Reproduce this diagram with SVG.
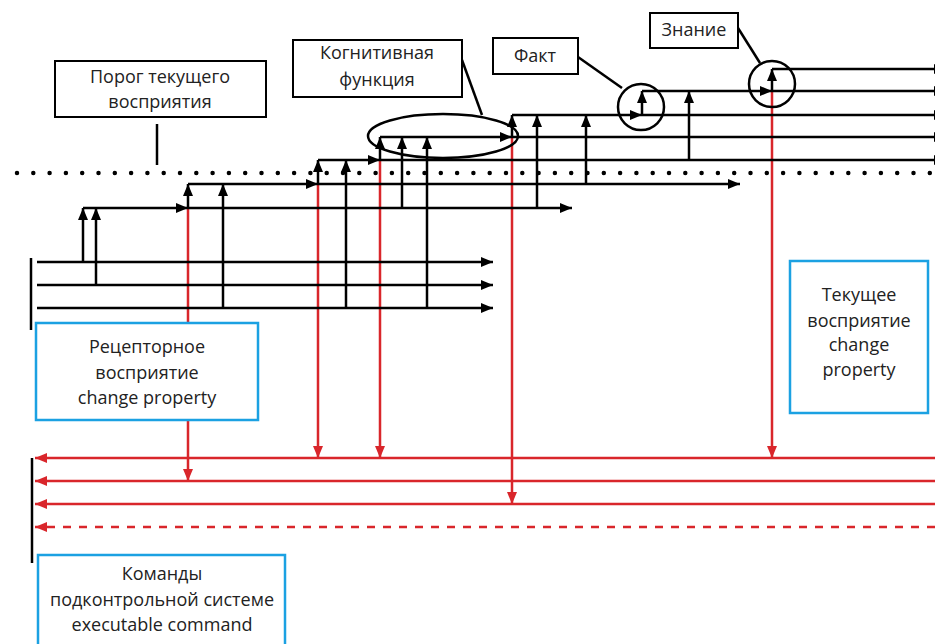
<svg xmlns="http://www.w3.org/2000/svg" width="935" height="644" viewBox="0 0 935 644">
<style>
.k{stroke:#000;stroke-width:2.5;fill:none}
.r{stroke:#D9262B;stroke-width:2.5;fill:none}
.ka{marker-end:url(#ak)}
.ra{marker-end:url(#ar)}
.box{fill:#fff;stroke:#000;stroke-width:2}
.bbox{fill:#fff;stroke:#1BA1E2;stroke-width:2.5}
.ring{fill:none;stroke:#000;stroke-width:2.5}
text{font-family:"Open Sans","Liberation Sans",sans-serif;font-size:18px;fill:#222;text-anchor:middle}
</style>
<defs>
<marker id="ak" viewBox="0 0 12 10" refX="12" refY="5" markerWidth="12" markerHeight="10" markerUnits="userSpaceOnUse" orient="auto"><path d="M0,0L12,5L0,10z" fill="#000"/></marker>
<marker id="ar" viewBox="0 0 12 10" refX="12" refY="5" markerWidth="12" markerHeight="10" markerUnits="userSpaceOnUse" orient="auto"><path d="M0,0L12,5L0,10z" fill="#D9262B"/></marker>
</defs>
<rect width="935" height="644" fill="#fff"/>

<g id="threshold-line">
<line x1="17" y1="173" x2="935" y2="173" stroke="#000" stroke-width="4.5" stroke-linecap="round" stroke-dasharray="0 16.3"/>
</g>

<g id="connectors">
<path class="r ra" d="M188,208V481"/>
<path class="r ra" d="M318,184V458"/>
<path class="r ra" d="M380,160V458"/>
<path class="r ra" d="M512,137V504"/>
<path class="r ra" d="M772,91V458"/>
<path class="r ra" d="M935,458H35"/>
<path class="r ra" d="M935,481H35"/>
<path class="r ra" d="M935,504H35"/>
<path class="r ra" d="M935,527H35" stroke-dasharray="8 8"/>
<path class="k" d="M31,258V330"/>
<path class="k" d="M32,458V563"/>
<path class="k ka" d="M37,262H493"/>
<path class="k ka" d="M37,285H493"/>
<path class="k ka" d="M37,308H493"/>
<path class="k ka" d="M83,262V208"/>
<path class="k ka" d="M96,285V208"/>
<path class="k ka" d="M83,208H188"/>
<path class="k ka" d="M188,208H572"/>
<path class="k ka" d="M188,208V184"/>
<path class="k ka" d="M223,308V184"/>
<path class="k ka" d="M188,184H318"/>
<path class="k ka" d="M318,184H740"/>
<path class="k ka" d="M318,184V160"/>
<path class="k ka" d="M346,308V160"/>
<path class="k ka" d="M318,160H380"/>
<path class="k ka" d="M380,160H946"/>
<path class="k ka" d="M380,160V137"/>
<path class="k ka" d="M402,208V137"/>
<path class="k ka" d="M427,308V137"/>
<path class="k ka" d="M380,137H512"/>
<path class="k ka" d="M512,137H946"/>
<path class="k ka" d="M512,137V115"/>
<path class="k ka" d="M537,208V115"/>
<path class="k ka" d="M586,184V115"/>
<path class="k ka" d="M512,115H642"/>
<path class="k ka" d="M642,115H946"/>
<path class="k ka" d="M642,115V91"/>
<path class="k ka" d="M689,160V91"/>
<path class="k ka" d="M642,91H772"/>
<path class="k ka" d="M772,91H946"/>
<path class="k ka" d="M772,91V69"/>
<path class="k ka" d="M772,69H946"/>
<path class="k" d="M157,124V165" stroke-width="2"/>
<path class="k" d="M462,60L482,115" stroke-width="2"/>
<path class="k" d="M578,57L622,88" stroke-width="2"/>
<path class="k" d="M738,28L760,63" stroke-width="2"/>
</g>

<g id="cognitive-ellipse"><ellipse class="ring" cx="443" cy="136" rx="75" ry="22"/></g>
<g id="fact-circle"><circle class="ring" cx="641" cy="107" r="23"/></g>
<g id="knowledge-circle"><circle class="ring" cx="772" cy="84" r="23"/></g>

<g id="threshold-label">
<rect class="box" x="55" y="61" width="211" height="56"/>
<text x="160" y="83">Порог текущего</text>
<text x="160" y="108">восприятия</text>
</g>
<g id="cognitive-label">
<rect class="box" x="293" y="40" width="169" height="57"/>
<text x="377" y="59">Когнитивная</text>
<text x="377" y="86">функция</text>
</g>
<g id="fact-label">
<rect class="box" x="493" y="38" width="85" height="36"/>
<text x="535" y="62">Факт</text>
</g>
<g id="knowledge-label">
<rect class="box" x="650" y="13" width="88" height="35"/>
<text x="694" y="36">Знание</text>
</g>
<g id="receptor">
<rect class="bbox" x="36" y="323" width="222" height="97"/>
<text x="147" y="353">Рецепторное</text>
<text x="147" y="379">восприятие</text>
<text x="147" y="404">change property</text>
</g>
<g id="current">
<rect class="bbox" x="790" y="261" width="138" height="152"/>
<text x="859" y="301">Текущее</text>
<text x="859" y="327">восприятие</text>
<text x="859" y="351">change</text>
<text x="859" y="376">property</text>
</g>
<g id="commands">
<rect class="bbox" x="38" y="555" width="247" height="95"/>
<text x="162" y="580">Команды</text>
<text x="162" y="606">подконтрольной системе</text>
<text x="162" y="631">executable command</text>
</g>
</svg>
